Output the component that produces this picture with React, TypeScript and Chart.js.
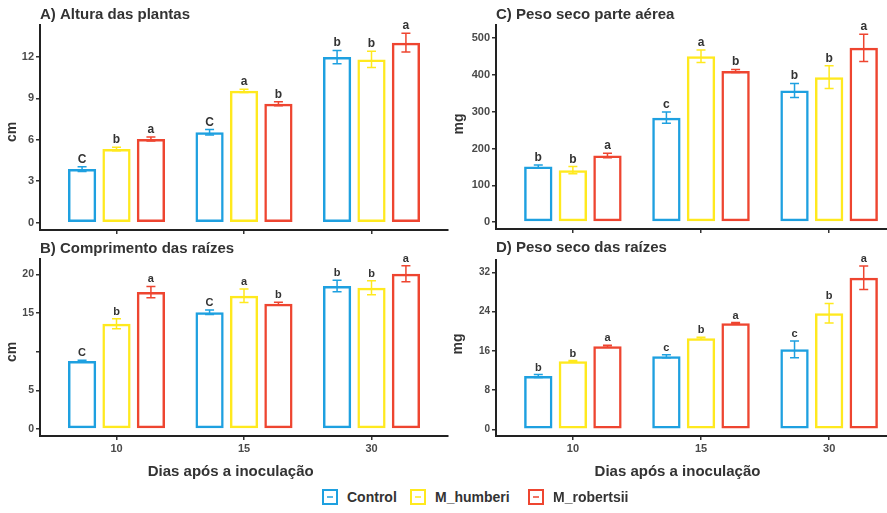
import React, { useEffect, useRef } from 'react';
import { Chart, registerables } from 'chart.js';

Chart.register(...registerables);

// ---------- data ----------
const dias = ['10', '15', '30'];
const seriesNames = ['Control', 'M_humberi', 'M_robertsii'];
const seriesColors = ['#1ea0e0', '#ffe91e', '#ee4530'];

// A) Altura das plantas (cm)
const alturaControl = [3.88, 6.54, 11.98];
const alturaHumberi = [5.33, 9.54, 11.81];
const alturaRobertsii = [6.05, 8.6, 13.02];
const alturaErrControl = [0.17, 0.2, 0.48];
const alturaErrHumberi = [0.12, 0.12, 0.59];
const alturaErrRobertsii = [0.14, 0.15, 0.68];
const alturaLetters = [['C', 'C', 'b'], ['b', 'a', 'b'], ['a', 'b', 'a']];
const alturaTicks = [0, 3, 6, 9, 12];

// B) Comprimento das raízes (cm)
const raizControl = [8.79, 15.09, 18.49];
const raizHumberi = [13.61, 17.23, 18.27];
const raizRobertsii = [17.71, 16.2, 20.08];
const raizErrControl = [0.1, 0.3, 0.75];
const raizErrHumberi = [0.65, 0.86, 0.9];
const raizErrRobertsii = [0.73, 0.2, 1.03];
const raizLetters = [['C', 'C', 'b'], ['b', 'a', 'b'], ['a', 'b', 'a']];
const raizTicks = [0, 5, 10, 15, 20];
const raizTickLabels = ['0', '5', '', '15', '20'];

// C) Peso seco parte aérea (mg)
const aereaControl = [151, 284, 358];
const aereaHumberi = [141, 451, 394];
const aereaRobertsii = [181, 411, 474];
const aereaErrControl = [4, 15, 19];
const aereaErrHumberi = [10, 17, 31];
const aereaErrRobertsii = [6, 4, 37];
const aereaLetters = [['b', 'c', 'b'], ['b', 'a', 'b'], ['a', 'b', 'a']];
const aereaTicks = [0, 100, 200, 300, 400, 500];

// D) Peso seco das raízes (mg)
const pesoRaizControl = [10.86, 14.88, 16.3];
const pesoRaizHumberi = [13.86, 18.55, 23.64];
const pesoRaizRobertsii = [16.92, 21.6, 30.9];
const pesoRaizErrControl = [0.3, 0.3, 1.7];
const pesoRaizErrHumberi = [0.15, 0.2, 2.0];
const pesoRaizErrRobertsii = [0.2, 0.15, 2.4];
const pesoRaizLetters = [['b', 'c', 'c'], ['b', 'b', 'b'], ['a', 'a', 'a']];
const pesoRaizTicks = [0, 8, 16, 24, 32];

const xTitle = 'Dias após a inoculação';

// ---------- styling ----------
const FONT = '"Liberation Sans", Arial, Helvetica, sans-serif';
const TEXT = '#333333';
const TICK = '#4a4a4a';

type Panel = {
  title: string;
  yTitle: string;
  values: number[][];
  errors: number[][];
  letters: string[][];
  yTicks: number[];
  yTickLabels?: string[];
  yMin: number;
  yMax: number;
  showX: boolean;
  left: number;
  top: number;
  width: number;
  height: number;
  padTop: number;
  padRight: number;
  yAxisW: number;
  xAxisH: number;
  titleY: number;
  yTitleX: number;
  yTitleY: number;
  xTitleX?: number;
  xTitleY?: number;
  letterSize: number;
  tickSize: number;
};

const panels: Panel[] = [
  {
    title: 'A) Altura das plantas', yTitle: 'cm',
    values: [alturaControl, alturaHumberi, alturaRobertsii],
    errors: [alturaErrControl, alturaErrHumberi, alturaErrRobertsii],
    letters: alturaLetters, yTicks: alturaTicks,
    yMin: -0.53, yMax: 14.3, showX: false,
    left: 0, top: 0, width: 470, height: 240,
    padTop: 25, padRight: 22, yAxisW: 40, xAxisH: 10,
    titleY: 15, yTitleX: 12.5, yTitleY: 132, letterSize: 12, tickSize: 11,
  },
  {
    title: 'C) Peso seco parte aérea', yTitle: 'mg',
    values: [aereaControl, aereaHumberi, aereaRobertsii],
    errors: [aereaErrControl, aereaErrHumberi, aereaErrRobertsii],
    letters: aereaLetters, yTicks: aereaTicks,
    yMin: -19, yMax: 536, showX: false,
    left: 450, top: 0, width: 470, height: 240,
    padTop: 25, padRight: 14, yAxisW: 46, xAxisH: 11,
    titleY: 15, yTitleX: 9, yTitleY: 124, letterSize: 12, tickSize: 11,
  },
  {
    title: 'B) Comprimento das raízes', yTitle: 'cm',
    values: [raizControl, raizHumberi, raizRobertsii],
    errors: [raizErrControl, raizErrHumberi, raizErrRobertsii],
    letters: raizLetters, yTicks: raizTicks, yTickLabels: raizTickLabels,
    yMin: -0.905, yMax: 21.98, showX: true,
    left: 0, top: 240, width: 470, height: 245,
    padTop: 19, padRight: 22, yAxisW: 40, xAxisH: 49,
    titleY: 9, yTitleX: 12.5, yTitleY: 112, xTitleX: 230.7, xTitleY: 231.5,
    letterSize: 11, tickSize: 10.5,
  },
  {
    title: 'D) Peso seco das raízes', yTitle: 'mg',
    values: [pesoRaizControl, pesoRaizHumberi, pesoRaizRobertsii],
    errors: [pesoRaizErrControl, pesoRaizErrHumberi, pesoRaizErrRobertsii],
    letters: pesoRaizLetters, yTicks: pesoRaizTicks,
    yMin: -1.37, yMax: 34.5, showX: true,
    left: 450, top: 240, width: 470, height: 245,
    padTop: 20, padRight: 14, yAxisW: 46, xAxisH: 49,
    titleY: 7.5, yTitleX: 8.5, yTitleY: 104, xTitleX: 227.5, xTitleY: 231.5,
    letterSize: 11, tickSize: 10,
  },
];

const legendX = [322, 410, 528];

function annotPlugin(p: Panel) {
  return {
    id: 'annot',
    afterDatasetsDraw(chart: any) {
      const ctx = chart.ctx as CanvasRenderingContext2D;
      const y = chart.scales.y;
      ctx.save();
      seriesNames.forEach((_, s) => {
        const meta = chart.getDatasetMeta(s);
        meta.data.forEach((bar: any, i: number) => {
          const v = p.values[s][i];
          const e = p.errors[s][i];
          const x = bar.x;
          const yTop = y.getPixelForValue(v + e);
          const yBot = y.getPixelForValue(v - e);
          const cap = 4.5;
          ctx.strokeStyle = seriesColors[s];
          ctx.lineWidth = 1.5;
          ctx.beginPath();
          ctx.moveTo(x, yTop);
          ctx.lineTo(x, yBot);
          ctx.moveTo(x - cap, yTop);
          ctx.lineTo(x + cap, yTop);
          ctx.moveTo(x - cap, yBot);
          ctx.lineTo(x + cap, yBot);
          ctx.stroke();
          ctx.fillStyle = TEXT;
          ctx.font = `bold ${p.letterSize}px ${FONT}`;
          ctx.textAlign = 'center';
          ctx.textBaseline = 'alphabetic';
          ctx.fillText(p.letters[s][i], x, yTop - 4);
        });
      });
      ctx.restore();
    },
    afterDraw(chart: any) {
      const ctx = chart.ctx as CanvasRenderingContext2D;
      ctx.save();
      ctx.fillStyle = TEXT;
      ctx.font = `bold 15px ${FONT}`;
      ctx.textAlign = 'left';
      ctx.textBaseline = 'middle';
      ctx.fillText(p.title, chart.chartArea.left, p.titleY);
      ctx.font = `bold 14px ${FONT}`;
      ctx.save();
      ctx.translate(p.yTitleX, p.yTitleY);
      ctx.rotate(-Math.PI / 2);
      ctx.textAlign = 'center';
      ctx.fillText(p.yTitle, 0, 0);
      ctx.restore();
      if (p.xTitleX !== undefined && p.xTitleY !== undefined) {
        ctx.font = `bold 15px ${FONT}`;
        ctx.textAlign = 'center';
        ctx.fillText(xTitle, p.xTitleX, p.xTitleY);
      }
      ctx.restore();
    },
  };
}

function PanelChart({ p }: { p: Panel }) {
  const ref = useRef<HTMLCanvasElement | null>(null);
  useEffect(() => {
    if (!ref.current) return;
    const datasets = seriesNames.map((name, s) => ({
      label: name,
      data: p.values[s].map((v, i) => ({ x: i + 1, y: v })),
      backgroundColor: 'rgba(255,255,255,0)',
      borderColor: seriesColors[s],
      borderWidth: 2.5,
      borderSkipped: false as any,
      categoryPercentage: 0.81,
      barPercentage: 0.82,
    }));
    const chart = new Chart(ref.current, {
      type: 'bar',
      data: { datasets } as any,
      options: {
        animation: false,
        responsive: false,
        devicePixelRatio: 1,
        layout: {
          autoPadding: false,
          padding: { top: p.padTop, right: p.padRight, left: 0, bottom: 0 },
        },
        plugins: {
          legend: { display: false },
          tooltip: { enabled: false },
          title: { display: false },
        },
        scales: {
          x: {
            type: 'linear',
            min: 0.4,
            max: 3.6,
            offset: false,
            afterBuildTicks: (s: any) => {
              s.ticks = dias.map((_, i) => ({ value: i + 1 }));
            },
            afterFit: (s: any) => {
              s.height = p.xAxisH;
            },
            ticks: {
              autoSkip: false,
              maxRotation: 0,
              padding: 2,
              color: TICK,
              font: { family: FONT, size: 11, weight: 'bold' },
              callback: (v: any) => (p.showX ? dias[Math.round(v) - 1] : ''),
            },
            grid: {
              display: true,
              drawOnChartArea: false,
              drawTicks: true,
              tickLength: 4,
              color: '#333',
              lineWidth: 1.5,
              offset: false,
            },
            border: { display: true, color: '#222', width: 2 },
          },
          y: {
            type: 'linear',
            min: p.yMin,
            max: p.yMax,
            afterBuildTicks: (s: any) => {
              s.ticks = p.yTicks.map((v) => ({ value: v }));
            },
            afterFit: (s: any) => {
              s.width = p.yAxisW;
            },
            ticks: {
              padding: 2,
              color: TICK,
              font: { family: FONT, size: p.tickSize, weight: 'bold' },
              callback: (v: any) => {
                const idx = p.yTicks.indexOf(v);
                if (p.yTickLabels && idx >= 0) return p.yTickLabels[idx];
                return String(v);
              },
            },
            grid: {
              display: true,
              drawOnChartArea: false,
              drawTicks: true,
              tickLength: 4,
              color: '#333',
              lineWidth: 1.5,
            },
            border: { display: true, color: '#222', width: 2 },
          },
        },
      } as any,
      plugins: [annotPlugin(p)],
    });
    return () => chart.destroy();
  }, [p]);
  return (
    <canvas
      ref={ref}
      width={p.width}
      height={p.height}
      style={{ position: 'absolute', left: p.left, top: p.top, width: p.width, height: p.height }}
    />
  );
}

export default function App() {
  return (
    <div
      style={{
        position: 'fixed',
        left: 0,
        top: 0,
        width: 887,
        height: 513,
        overflow: 'hidden',
        background: '#ffffff',
      }}
    >
      {panels.map((p, i) => (
        <PanelChart key={i} p={p} />
      ))}
      {seriesNames.map((name, s) => (
        <React.Fragment key={name}>
          <div
            style={{
              position: 'absolute',
              left: legendX[s],
              top: 489,
              width: 16,
              height: 16,
              boxSizing: 'border-box',
              border: `2px solid ${seriesColors[s]}`,
              background: '#fff',
            }}
          >
            <div
              style={{
                position: 'absolute',
                left: 3,
                top: 5,
                width: 6,
                height: 2,
                background: seriesColors[s],
                opacity: 0.75,
              }}
            />
          </div>
          <div
            style={{
              position: 'absolute',
              left: legendX[s] + 25,
              top: 488,
              height: 18,
              lineHeight: '18px',
              fontFamily: FONT,
              fontWeight: 'bold',
              fontSize: 14,
              color: TEXT,
              whiteSpace: 'nowrap',
            }}
          >
            {name}
          </div>
        </React.Fragment>
      ))}
    </div>
  );
}
